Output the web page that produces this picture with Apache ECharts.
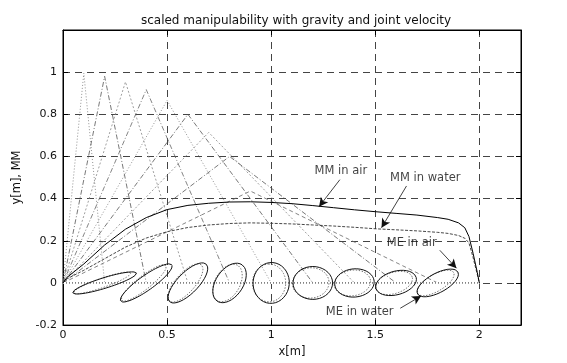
<!DOCTYPE html>
<html><head><meta charset="utf-8">
<script src="https://cdn.jsdelivr.net/npm/echarts@6/dist/echarts.min.js"></script>
<style>html,body{margin:0;padding:0;background:#fff}#c{width:567px;height:363px}</style>
</head><body><div id="c"></div>
<script>
// ---- data ----
const titleText = 'scaled manipulability with gravity and joint velocity';
const xMin = 0, xMax = 2.2, xStep = 0.5;
const yMin = -0.2, yMax = 1.2, yStep = 0.2;

// manipulability measure curves
const mmX     = [0, 0.02, 0.1, 0.2, 0.3, 0.4, 0.5, 0.6, 0.7, 0.8, 0.9, 1.0, 1.1, 1.2, 1.3, 1.4, 1.5, 1.6, 1.7, 1.8, 1.85, 1.9, 1.93, 1.95, 1.97, 1.99, 2.0];
const mmAir   = [0, 0.027, 0.09, 0.18, 0.255, 0.31, 0.348, 0.368, 0.378, 0.384, 0.385, 0.382, 0.376, 0.367, 0.357, 0.347, 0.338, 0.33, 0.322, 0.31, 0.302, 0.285, 0.262, 0.22, 0.14, 0.05, 0];
const mmWater = [0, 0.02, 0.06, 0.115, 0.17, 0.213, 0.243, 0.263, 0.275, 0.282, 0.285, 0.283, 0.28, 0.275, 0.27, 0.264, 0.257, 0.252, 0.247, 0.24, 0.235, 0.225, 0.212, 0.19, 0.12, 0.04, 0];

// two-link arm configurations: elbow and end-effector positions
const endX   = [0.2, 0.4, 0.6, 0.8, 1.0, 1.2, 1.4, 1.6, 1.8];
const elbowX = [0.1, 0.2, 0.3, 0.4, 0.5, 0.6, 0.7, 0.8, 0.9];
const elbowY = [0.995, 0.98, 0.954, 0.917, 0.866, 0.8, 0.714, 0.6, 0.436];

// manipulability ellipses (semi-axes and tilt in degrees)
const meAirA   = [0.16, 0.15, 0.125, 0.105, 0.097, 0.095, 0.095, 0.1, 0.11];
const meAirB   = [0.025, 0.035, 0.05, 0.065, 0.087, 0.078, 0.067, 0.056, 0.046];
const meAirAng = [17, 35, 45, 55, 85, 0, 5, 15, 28];
const meWaterA   = [0.145, 0.135, 0.115, 0.097, 0.09, 0.088, 0.088, 0.092, 0.1];
const meWaterB   = [0.022, 0.032, 0.046, 0.06, 0.08, 0.072, 0.061, 0.05, 0.04];
const meWaterAng = [19, 38, 48, 60, 90, 5, 8, 18, 30];
const meWaterShift = [-0.012, -0.012, -0.012, -0.01, -0.01, -0.01, -0.01, -0.01, -0.01];

// annotations
const noteText = ['MM in air', 'MM in water', 'ME in air', 'ME in water'];
const noteX = [1.335, 1.74, 1.675, 1.425];
const noteY = [0.53, 0.50, 0.19, -0.14];
const arrowFrom = [[1.33, 0.49], [1.65, 0.46], [1.81, 0.155], [1.62, -0.12]];
const arrowTo   = [[1.23, 0.362], [1.53, 0.262], [1.89, 0.07], [1.72, -0.062]];

// ---- build chart ----
const FONT = 'DejaVu Sans, Liberation Sans, sans-serif';
function ellipse(cx, a, b, angDeg) {
  const th = angDeg * Math.PI / 180, pts = [];
  for (let i = 0; i <= 72; i++) {
    const t = i / 72 * 2 * Math.PI;
    pts.push([cx + a * Math.cos(t) * Math.cos(th) - b * Math.sin(t) * Math.sin(th),
              a * Math.cos(t) * Math.sin(th) + b * Math.sin(t) * Math.cos(th)]);
  }
  return pts;
}
const series = [];
const armTypes = [[1, 2], [5, 2, 1, 2], [2, 2], [5, 2, 1, 2], [1, 2], [5, 2, 1, 2], [2, 2], [5, 2, 1, 2], [4, 3]];
const armColors = ['#777', '#555', '#888', '#666', '#777', '#555', '#888', '#555', '#666'];
endX.forEach((ex, i) => {
  series.push({type: 'line', data: [[0, 0], [elbowX[i], elbowY[i]], [ex, 0]], symbol: 'none', silent: true,
    lineStyle: {color: armColors[i], width: 0.8, type: armTypes[i]}, z: 2});
});
// mask the y=0 grid line under the dotted base line, then the base line
series.push({type: 'line', data: [[0, 0], [2, 0]], symbol: 'none', silent: true, lineStyle: {color: '#fff', width: 2}, z: 3});
series.push({type: 'line', data: [[0, 0], [2, 0]], symbol: 'none', silent: true, lineStyle: {color: '#222', width: 1, type: [1, 2]}, z: 4});
endX.forEach((ex, i) => {
  series.push({type: 'line', data: ellipse(ex + meWaterShift[i], meWaterA[i], meWaterB[i], meWaterAng[i]), symbol: 'none', silent: true,
    lineStyle: {color: '#666', width: 0.9, type: [1.5, 1.5]}, z: 5});
  series.push({type: 'line', data: ellipse(ex, meAirA[i], meAirB[i], meAirAng[i]), symbol: 'none', silent: true,
    lineStyle: {color: '#111', width: 1}, z: 6});
});
series.push({type: 'line', data: mmX.map((x, i) => [x, mmWater[i]]), symbol: 'none', silent: true,
  lineStyle: {color: '#333', width: 0.9, type: [3, 1.5]}, z: 7});
series.push({type: 'line', data: mmX.map((x, i) => [x, mmAir[i]]), symbol: 'none', silent: true,
  lineStyle: {color: '#000', width: 1}, z: 8,
  markLine: {silent: true, symbol: ['none', 'arrow'], symbolSize: [7, 9], label: {show: false}, animation: false,
    lineStyle: {color: '#111', width: 0.8, type: 'solid'},
    data: arrowFrom.map((f, i) => [{coord: f}, {coord: arrowTo[i]}])}});
series.push({type: 'scatter', symbolSize: 0, silent: true, z: 9,
  data: noteText.map((t, i) => ({name: t, value: [noteX[i], noteY[i]]})),
  label: {show: true, position: 'inside', formatter: '{b}', color: '#111', fontSize: 11.5, fontFamily: FONT}});

const chart = echarts.init(document.getElementById('c'), null, {renderer: 'canvas'});
const gridDash = {show: true, lineStyle: {color: '#444', width: 1, type: [7, 5]}};
chart.setOption({
  animation: false,
  backgroundColor: '#fff',
  title: {text: titleText, left: 291, textAlign: 'center', top: 10,
    textStyle: {fontSize: 12, fontWeight: 'normal', color: '#111', fontFamily: FONT}},
  grid: {left: 63, right: 46, top: 30, bottom: 32, show: true, borderColor: '#000', borderWidth: 1, backgroundColor: 'transparent'},
  xAxis: [{type: 'value', min: xMin, max: xMax, interval: xStep,
    name: 'x[m]', nameLocation: 'middle', nameGap: 20,
    nameTextStyle: {fontSize: 11.5, color: '#111', fontFamily: FONT},
    axisLine: {show: true, onZero: false, lineStyle: {color: '#000'}},
    axisTick: {show: true, inside: true, length: 5, lineStyle: {color: '#000'}},
    axisLabel: {fontSize: 11, color: '#111', fontFamily: FONT, margin: 5,
      formatter: v => (Math.abs(v - xMax) < 1e-9 ? '' : String(+v.toFixed(2)))},
    splitLine: gridDash},
   {type: 'value', position: 'top', min: xMin, max: xMax, interval: xStep,
    axisLine: {show: true, onZero: false, lineStyle: {color: '#000'}},
    axisTick: {show: true, inside: true, length: 5, lineStyle: {color: '#000'}},
    axisLabel: {show: false}, splitLine: {show: false}}],
  yAxis: [{type: 'value', min: yMin, max: yMax, interval: yStep,
    name: 'y[m], MM', nameLocation: 'middle', nameGap: 40, nameRotate: 90,
    nameTextStyle: {fontSize: 11.5, color: '#111', fontFamily: FONT},
    axisLine: {show: true, onZero: false, lineStyle: {color: '#000'}},
    axisTick: {show: true, inside: true, length: 5, lineStyle: {color: '#000'}},
    axisLabel: {fontSize: 11, color: '#111', fontFamily: FONT, margin: 6,
      formatter: v => (Math.abs(v - yMax) < 1e-9 ? '' : String(+v.toFixed(2)))},
    splitLine: gridDash},
   {type: 'value', position: 'right', min: yMin, max: yMax, interval: yStep,
    axisLine: {show: true, onZero: false, lineStyle: {color: '#000'}},
    axisTick: {show: true, inside: true, length: 5, lineStyle: {color: '#000'}},
    axisLabel: {show: false}, splitLine: {show: false}}],
  series: series
});
</script></body></html>
